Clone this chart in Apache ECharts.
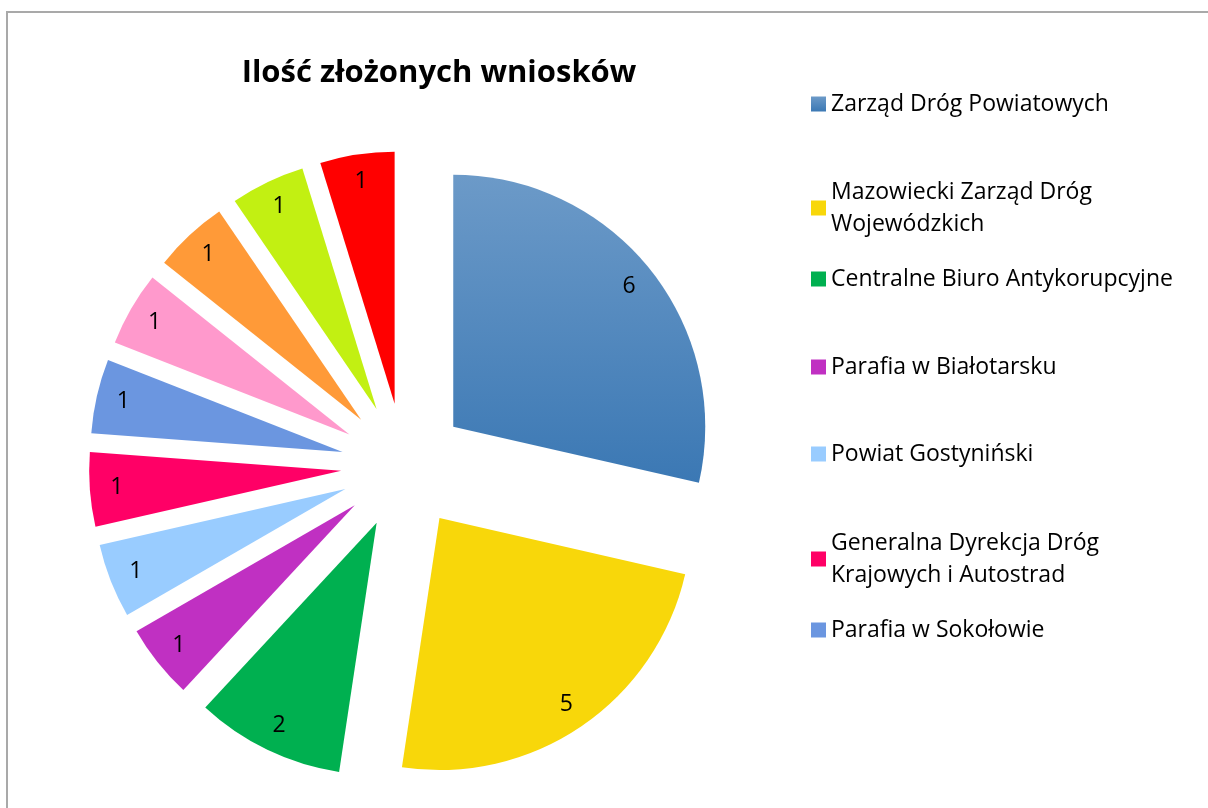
<!DOCTYPE html>
<html>
<head>
<meta charset="utf-8">
<script src="https://cdn.jsdelivr.net/npm/echarts@6/dist/echarts.min.js"></script>
<style>
  body { margin: 0; background: #fff; }
  #frame { position: absolute; left: 6px; top: 11px; width: 1300px; height: 900px;
           border-left: 2px solid #a9a9a9; border-top: 2px solid #a9a9a9; }
  #chart { position: absolute; left: 0; top: 0; width: 1208px; height: 808px; }
</style>
</head>
<body>
<div id="frame"></div>
<div id="chart"></div>
<script>
// data
var categories = [
  'Zarząd Dróg Powiatowych',
  'Mazowiecki Zarząd Dróg Wojewódzkich',
  'Centralne Biuro Antykorupcyjne',
  'Parafia w Białotarsku',
  'Powiat Gostyniński',
  'Generalna Dyrekcja Dróg Krajowych i Autostrad',
  'Parafia w Sokołowie',
  'Pozostałe 1',
  'Pozostałe 2',
  'Pozostałe 3',
  'Pozostałe 4'
];
var values = [6, 5, 2, 1, 1, 1, 1, 1, 1, 1, 1];
// only the first 7 fit into the legend
var legendNames = categories.slice(0, 7);
var legendTops = [83, 171, 258, 346, 433, 522, 609];

var colors = [
  new echarts.graphic.LinearGradient(0, 0, 0, 1, [
    { offset: 0, color: '#6c9ac8' },
    { offset: 1, color: '#3b78b4' }
  ]),
  '#f8d70a', '#00b050', '#c030c2', '#99ccff', '#ff0066',
  '#6b96e0', '#ff99cc', '#ff9a38', '#c2f012', '#ff0000'
];

var wrapped = {
  'Mazowiecki Zarząd Dróg Wojewódzkich': 'Mazowiecki Zarząd Dróg\nWojewódzkich',
  'Generalna Dyrekcja Dróg Krajowych i Autostrad': 'Generalna Dyrekcja Dróg\nKrajowych i Autostrad'
};

var font = '"Open Sans", "Noto Sans", sans-serif';

var pieData = categories.map(function (name, i) {
  return { name: name, value: values[i], selected: true, itemStyle: { color: colors[i] } };
});
var labelData = categories.map(function (name, i) {
  return { name: name, value: values[i], selected: true };
});

var legends = legendNames.map(function (name, i) {
  return {
    data: [name],
    orient: 'vertical',
    left: 806,
    top: legendTops[i],
    itemWidth: 15,
    itemHeight: 15,
    icon: 'rect',
    selectedMode: false,
    formatter: function (n) { return wrapped[n] || n; },
    textStyle: { fontFamily: font, fontSize: 23, color: '#000', lineHeight: 32 }
  };
});

var chart = echarts.init(document.getElementById('chart'));
chart.setOption({
  animation: false,
  title: {
    text: 'Ilość złożonych wniosków',
    left: 434,
    top: 53,
    textAlign: 'center',
    textStyle: { fontFamily: font, fontSize: 31, fontWeight: 'bold', color: '#000' }
  },
  legend: legends,
  series: [
    {
      name: 'wnioski',
      type: 'pie',
      center: [404, 466],
      radius: [0, 252],
      startAngle: 90,
      clockwise: true,
      selectedMode: 'multiple',
      selectedOffset: 63,
      label: { show: false },
      labelLine: { show: false },
      emphasis: { disabled: true },
      data: pieData
    },
    {
      name: 'etykiety',
      type: 'pie',
      silent: true,
      center: [404, 466],
      radius: [192, 252],
      startAngle: 90,
      clockwise: true,
      selectedMode: 'multiple',
      selectedOffset: 63,
      itemStyle: { color: 'rgba(0,0,0,0)' },
      label: {
        show: true,
        position: 'inside',
        formatter: '{c}',
        fontFamily: font,
        fontSize: 23,
        color: '#000'
      },
      labelLine: { show: false },
      emphasis: { disabled: true },
      data: labelData
    }
  ]
});
</script>
</body>
</html>
